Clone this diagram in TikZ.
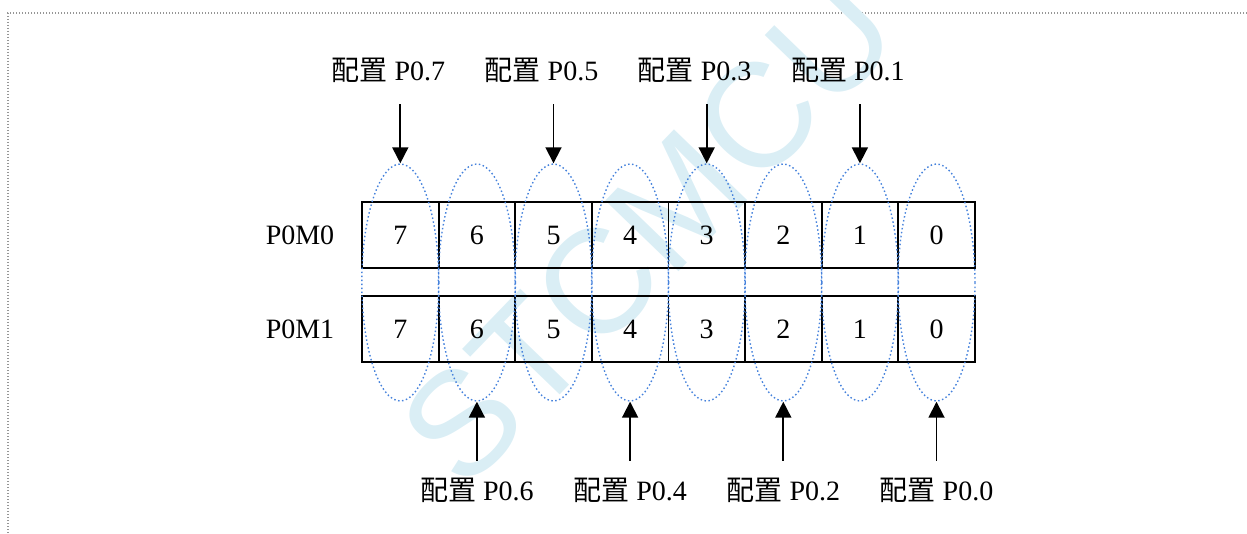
\documentclass[tikz,border=0pt]{standalone}
\usepackage{fontspec}
\setmainfont{Liberation Serif}
\newfontfamily\cjk{Noto Sans CJK SC}
\newfontfamily\markfont{Liberation Sans}
\usetikzlibrary{arrows.meta,shapes.geometric}
\definecolor{ringblue}{RGB}{70,130,220}
\definecolor{framegray}{RGB}{150,150,150}
\definecolor{markcyan}{RGB}{218,238,245}

\begin{document}
\begin{tikzpicture}[x=1pt,y=-1pt, every node/.style={font=\fontsize{28}{31}\selectfont},
  bitcell/.style={draw,line width=1.8pt,minimum width=76.6pt,minimum height=66pt,inner sep=0pt,outer sep=0pt},
  bitring/.style={draw=ringblue,ellipse,line width=1.4pt,dash pattern=on 1.5pt off 2.5pt,minimum width=77pt,minimum height=237pt,inner sep=0pt},
  pinarrow/.style={line width=1.8pt,-{Triangle[length=16pt,width=16pt]}}]
\useasboundingbox (0,0) rectangle (1247,533);

% page frame and watermark
\draw[framegray,line width=1.2pt,dash pattern=on 1.2pt off 1.8pt] (1247,13) -- (8,13) -- (8,533);
\node[rotate=46,text=markcyan,font=\markfont\fontsize{148}{148}\selectfont] (mark) at (648,230) {STCMCU};

% register names
\node (m0) at (300,235) {P0M0};
\node (m1) at (300,329) {P0M1};

% bit cells, rings and pin labels
\foreach \b in {7,...,0} {
  \pgfmathsetmacro\cx{362+76.6*(7-\b)+38.3}
  \node[bitcell] (r0b\b) at (\cx,235) {\b};
  \node[bitcell] (r1b\b) at (\cx,329) {\b};
}
\foreach \b in {7,...,0} {
  \pgfmathsetmacro\cx{362+76.6*(7-\b)+38.3}
  \node[bitring] (e\b) at (\cx,282.5) {};
  \ifodd\b
    \node (t\b) at (\cx-12,70) {{\cjk 配置}\hspace{0.25em}P0.\b};
    \path (e\b.north) ++(0,-59) coordinate (a\b);
    \draw[pinarrow] (a\b) -- (e\b.north);
  \else
    \node (t\b) at (\cx,490) {{\cjk 配置}\hspace{0.25em}P0.\b};
    \path (e\b.south) ++(0,59) coordinate (a\b);
    \draw[pinarrow] (a\b) -- (e\b.south);
  \fi
}
\end{tikzpicture}
\end{document}
